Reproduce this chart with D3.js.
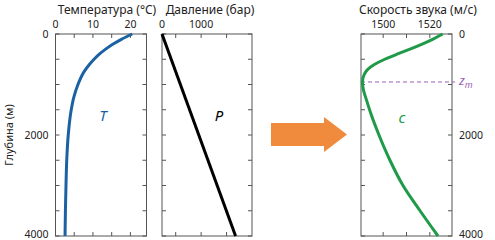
<!DOCTYPE html>
<html lang="ru">
<head>
<meta charset="UTF-8">
<title>Профили океана</title>
<script src="https://cdn.jsdelivr.net/npm/d3@7"></script>
<style>
  body { margin: 0; background: #fff; }
  text { font-family: "Noto Sans", "Open Sans", sans-serif; }
</style>
</head>
<body>
<div id="container"></div>
<script>
// depth grid (m) and profiles
let depthT = [0, 100, 200, 300, 400, 500, 600, 750, 1000, 1250, 1500, 2000, 2500, 3000, 3500, 4000];
let tempVals = [20.5, 17.7, 15.4, 13.4, 11.7, 10.3, 9.1, 7.6, 6.0, 4.9, 4.2, 3.4, 3.0, 2.8, 2.65, 2.55];

let depthP = [0, 4000];
let presVals = [0, 1880];

let depthC = [0, 100, 200, 300, 400, 500, 600, 700, 800, 950, 1100, 1300, 1600, 2000, 2500, 3000, 3500, 4000];
let soundVals = [1525.5, 1521.4, 1516.7, 1511.5, 1505.9, 1500.7, 1496.4, 1493.4, 1491.9, 1491.1, 1491.5, 1492.8, 1494.9, 1498.2, 1502.9, 1508.5, 1515.8, 1523.5];

let zmDepth = 950;

let depthTicks = [0, 500, 1000, 1500, 2000, 2500, 3000, 3500, 4000];
let depthLabels = [0, 2000, 4000];
let tempTicks = [5, 10, 15, 20];
let tempLabels = [0, 10, 20];
let presTicks = [350, 1000, 1650];
let presLabels = [0, 1000];
let soundTicks = [1500, 1510, 1520];
let soundLabels = [1500, 1520];

let svg = d3.select('#container')
    .append('svg')
    .attr('width', 495)
    .attr('height', 240);

let yTop = 34, yBottom = 236;
let y = d3.scaleLinear().domain([0, 4000]).range([yTop, yBottom]);

// one panel = frame + inward ticks
function panel(x, xTicks, xLabels, labelSide) {
    let g = svg.append('g');
    let x0 = x.range()[0], x1 = x.range()[1];
    let tick = 4;
    // ticks on all four sides pointing inward
    depthTicks.forEach(d => {
        g.append('line').attr('x1', x0).attr('x2', x0 + tick)
            .attr('y1', y(d)).attr('y2', y(d)).attr('stroke', '#555');
        g.append('line').attr('x1', x1).attr('x2', x1 - tick)
            .attr('y1', y(d)).attr('y2', y(d)).attr('stroke', '#555');
    });
    xTicks.forEach(v => {
        g.append('line').attr('x1', x(v)).attr('x2', x(v))
            .attr('y1', yTop).attr('y2', yTop + tick).attr('stroke', '#555');
        g.append('line').attr('x1', x(v)).attr('x2', x(v))
            .attr('y1', yBottom).attr('y2', yBottom - tick).attr('stroke', '#555');
    });
    g.append('rect')
        .attr('x', x0).attr('y', yTop)
        .attr('width', x1 - x0).attr('height', yBottom - yTop)
        .attr('fill', 'none').attr('stroke', '#555').attr('stroke-width', 1);
    // top labels
    g.selectAll('.xl').data(xLabels).enter().append('text')
        .attr('x', d => x(d)).attr('y', yTop - 6)
        .attr('text-anchor', 'middle')
        .attr('font-size', 10.5).attr('fill', '#222')
        .text(d => d);
    // depth labels, the last one nudged up so it stays inside
    let ly = d => Math.min(y(d), yBottom - 1.5);
    if (labelSide === 'left') {
        g.selectAll('.yl').data(depthLabels).enter().append('text')
            .attr('x', x0 - 7).attr('y', ly).attr('dy', '0.35em')
            .attr('text-anchor', 'end')
            .attr('font-size', 10.5).attr('fill', '#222')
            .text(d => d);
    }
    if (labelSide === 'right') {
        g.selectAll('.yl').data(depthLabels).enter().append('text')
            .attr('x', x1 + 7).attr('y', ly).attr('dy', '0.35em')
            .attr('text-anchor', 'start')
            .attr('font-size', 10.5).attr('fill', '#222')
            .text(d => d);
    }
    return g;
}

function title(cx, txt) {
    svg.append('text').attr('x', cx).attr('y', 14)
        .attr('text-anchor', 'middle').attr('font-size', 12).attr('fill', '#222')
        .text(txt);
}

// temperature
let xT = d3.scaleLinear().domain([0, 24.3]).range([55.5, 146.5]);
panel(xT, tempTicks, tempLabels, 'left');
svg.append('path')
    .datum(d3.zip(depthT, tempVals))
    .attr('d', d3.line().curve(d3.curveMonotoneY).x(d => xT(d[1])).y(d => y(d[0])))
    .attr('fill', 'none').attr('stroke', '#1b62a3').attr('stroke-width', 3);
svg.append('text').attr('x', 103).attr('y', 121)
    .attr('text-anchor', 'middle').attr('font-size', 15).attr('font-style', 'italic')
    .attr('fill', '#1b62a3').text('T');
title(107, 'Температура (°C)');

// pressure
let xP = d3.scaleLinear().domain([0, 2300]).range([162, 252]);
panel(xP, presTicks, presLabels, 'none');
svg.append('path')
    .datum(d3.zip(depthP, presVals))
    .attr('d', d3.line().x(d => xP(d[1])).y(d => y(d[0])))
    .attr('fill', 'none').attr('stroke', '#000').attr('stroke-width', 3);
svg.append('text').attr('x', 219).attr('y', 121)
    .attr('text-anchor', 'middle').attr('font-size', 15).attr('font-style', 'italic')
    .attr('fill', '#000').text('P');
title(210, 'Давление (бар)');

// arrow
svg.append('path')
    .attr('d', 'M271,123 L324,123 L324,117 L347,134.5 L324,152 L324,146 L271,146 Z')
    .attr('fill', '#f08a3c');

// sound speed
let xC = d3.scaleLinear().domain([1490.5, 1529.5]).range([361, 452]);
panel(xC, soundTicks, soundLabels, 'right');
svg.append('line')
    .attr('x1', xC.range()[0]).attr('x2', xC.range()[1] + 3)
    .attr('y1', y(zmDepth)).attr('y2', y(zmDepth))
    .attr('stroke', '#9c5fb5').attr('stroke-width', 1).attr('stroke-dasharray', '4,3');
svg.append('path')
    .datum(d3.zip(depthC, soundVals))
    .attr('d', d3.line().curve(d3.curveMonotoneY).x(d => xC(d[1])).y(d => y(d[0])))
    .attr('fill', 'none').attr('stroke', '#1e9a48').attr('stroke-width', 3);
let zm = svg.append('text').attr('x', 459).attr('y', y(zmDepth) + 3)
    .attr('font-size', 13).attr('font-style', 'italic').attr('fill', '#9c5fb5');
zm.append('tspan').text('z');
zm.append('tspan').attr('font-size', 9).attr('dy', 3).text('m');
svg.append('text').attr('x', 402).attr('y', 123)
    .attr('text-anchor', 'middle').attr('font-size', 15).attr('font-style', 'italic')
    .attr('fill', '#1e9a48').text('c');
title(418, 'Скорость звука (м/с)');

// depth axis title
svg.append('text')
    .attr('transform', 'translate(13,135) rotate(-90)')
    .attr('text-anchor', 'middle').attr('font-size', 11).attr('fill', '#222')
    .text('Глубина (м)');
</script>
</body>
</html>
